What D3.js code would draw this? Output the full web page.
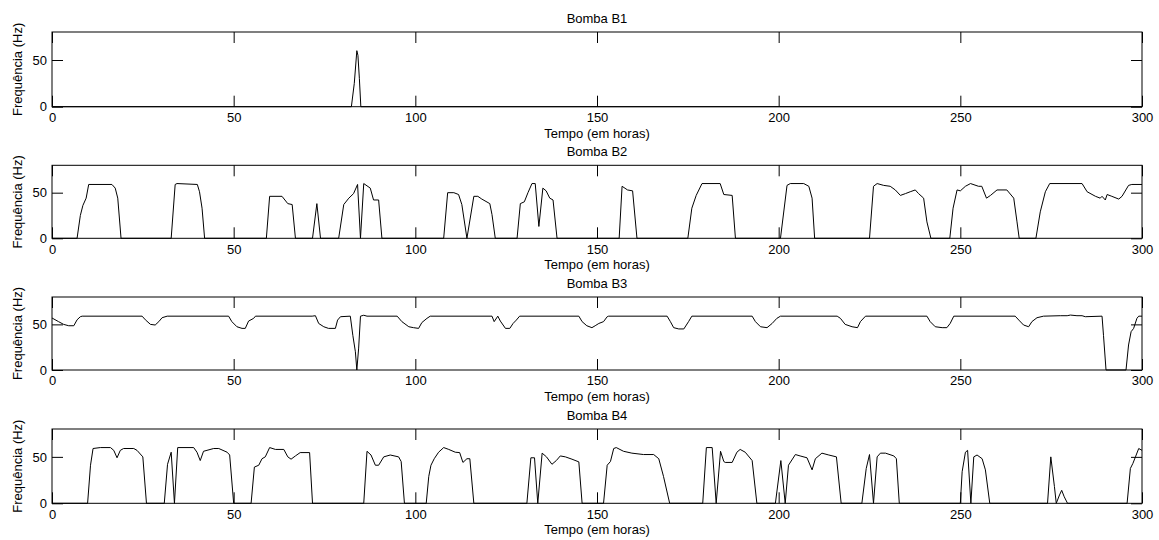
<!DOCTYPE html>
<html>
<head>
<meta charset="utf-8">
<script src="https://cdn.jsdelivr.net/npm/d3@7"></script>
<style>
  body { margin: 0; background: #fff; }
  svg { display: block; font-family: "Liberation Sans", Arial, sans-serif; }
  .tick line { stroke: #000; }
  .tick text { fill: #000; font-size: 13px; }
</style>
</head>
<body>
<div id="chart"></div>
<script>
'use strict';

// pump names (one subplot each)
var pumps = ['Bomba B1', 'Bomba B2', 'Bomba B3', 'Bomba B4'];

var xTicks = [0, 50, 100, 150, 200, 250, 300];
var yTicks = [0, 50];

// time in hours / frequency in Hz
var b1Time = [0, 82.4, 83.2, 83.9, 84.2, 84.6, 85, 300];
var b1Freq = [0, 0, 25, 60, 55, 30, 0, 0];

var b2Time = [0, 6.9, 7.8, 8.5, 9.4, 10.1, 16.5, 17.4, 18.1, 19.0,
  32.8, 33.9, 34.4, 40, 40.6, 41.3, 42.0,
  59, 59.9, 63.3, 64.9, 66.1, 67,
  71.7, 72.9, 73.9,
  78.9, 80.3, 81.7, 83, 84.1, 84.9, 85.8, 87.6, 88.5, 89.9, 90.8,
  107.8, 108.9, 110.6, 111.9, 112.8, 114.2, 116.1, 117.2, 118.3, 120.5, 121.1, 122,
  128, 128.9, 130, 131, 132.1, 133, 134, 135.1, 136, 137, 137.9, 139,
  156.1, 156.9, 158.4, 159.8, 161,
  175, 176.1, 177.3, 178.9, 183.9, 184.9, 187.2, 188.1,
  200.5, 202.3, 203.2, 206.9, 208.3, 209.2, 209.9,
  225, 226.1, 227.1, 228.9, 230.7, 232.1, 233.5, 234.9, 236.2, 237.6, 238.5, 239.9, 240.8, 241.9,
  247.1, 248, 249.1, 250, 251.4, 252.8, 255, 255.9, 257.2, 258.3, 260.1, 262.8, 264.7, 265.6, 266.2,
  270.8, 272, 273.4, 274.6, 283.5, 284.9, 287.2, 288.5, 289, 289.9, 290.4, 291.7, 293.6, 294.5, 296.3, 297.2, 300];
var b2Freq = [0, 0, 25, 36, 44, 59, 59, 55, 44, 0,
  0, 59, 60, 59, 51, 33, 0,
  0, 46, 46, 38, 37, 0,
  0, 38, 0,
  0, 37, 44, 49, 59, 0, 60, 55, 42, 42, 0,
  0, 50, 50, 48, 37, 0, 46, 46, 43, 38, 26, 0,
  0, 38, 40, 50, 60, 60, 13, 55, 52, 44, 42, 0,
  0, 57, 53, 52, 0,
  0, 33, 47, 60, 60, 48, 47, 0,
  0, 58, 60, 60, 57, 44, 0,
  0, 57, 60, 58, 57, 53, 47, 49, 51, 53, 49, 44, 18, 0,
  0, 33, 53, 52, 57, 60, 57, 57, 44, 47, 53, 53, 44, 18, 0,
  0, 29, 51, 60, 60, 51, 46, 44, 46, 42, 48, 46, 43, 46, 58, 59, 59];

var b3Time = [0, 1.8, 3.2, 4.6, 6, 6.9, 7.8, 8.3,
  24.8, 25.7, 27.1, 28.4, 29.4, 30.3, 31.7,
  48.6, 49.5, 50.9, 52.3, 53.2, 54.1, 55.5, 56,
  71.6, 72.5, 73.4, 74.8, 76.1, 78, 78.6, 79.4,
  82.1, 82.8, 83.5, 83.9, 84.4, 84.9, 85.8, 86.7,
  95, 96.3, 98.2, 99.5, 100.9, 101.8, 103.2, 104.1,
  121.1, 121.7, 122.7, 123.4, 124.8, 126, 126.9, 127.8, 128.7,
  145, 145.9, 147.2, 148.6, 149.5, 150.5, 151.8, 152.8, 153.2,
  169.3, 170.2, 171.1, 172.5, 173.9, 175.2, 176.1,
  192.7, 193.6, 195, 196.8, 198.2, 199.5, 200.5,
  216.1, 217, 218.3, 220.2, 221.7, 222.5, 223.9,
  240.8, 241.7, 243.1, 245, 246.3, 247.2, 248.2,
  265.1, 266.1, 267.4, 268.8, 269.7, 271.1, 272.9,
  277.5, 279.4, 280.3, 282.1, 283.5, 284.4, 289, 289.4, 290.1,
  295.6, 296.3, 297, 297.7, 298.6, 299.1, 300];
var b3Freq = [57, 53, 50, 48.5, 48.5, 55, 58.4, 59,
  59, 55, 50, 49.3, 53, 57.3, 59,
  59, 53, 47.4, 45.6, 45.6, 53.6, 56.6, 59,
  59, 59.5, 51, 47.4, 45.6, 45.6, 54.7, 58.4,
  59, 38, 20, 0, 24, 59, 60, 59,
  59, 53, 47.4, 46.4, 45.6, 52, 56.6, 59,
  59, 53, 59, 53.6, 45.6, 45.6, 51, 54.7, 59,
  59, 53, 48.5, 46.4, 48.5, 51, 53, 58.4, 59,
  59, 53, 46.4, 45, 45, 53, 59,
  59, 53, 47.4, 46.4, 51, 56.6, 59,
  59, 56.6, 50, 47.4, 46.4, 53, 59,
  59, 53, 47.4, 46.4, 46.4, 51, 59,
  59, 54.7, 49.3, 47.4, 53, 57.3, 59,
  59.5, 59.5, 60.2, 59.5, 59.5, 58.4, 59, 38, 0,
  0, 27.4, 42, 45.6, 56.6, 59, 59];

var b4Time = [0, 9.8, 10.6, 11.3, 13.3, 16.1, 17, 17.9, 18.8, 19.7, 22.5, 23.4, 25, 26,
  30.9, 31.8, 32.8, 33.7, 34.6, 39, 39.9, 40.8, 41.7, 44.5, 45.9, 48.2, 48.9, 50,
  54.8, 55.7, 56.9, 57.8, 58.7, 59.9, 61.5, 63.8, 64.9, 65.8, 67, 68.3, 70.9, 71.7,
  85.8, 86.7, 87.8, 89, 89.9, 91.3, 93.1, 95.4, 96.1, 97,
  103, 103.7, 104.3, 105.2, 106.4, 107.8, 109.2, 111, 112.2, 113.1, 114.2, 115, 116.1,
  130.7, 131.8, 132.8, 133.7, 134.9, 136.1, 137.6, 138.8, 139.9, 141.3, 143.1, 145, 145.9,
  151.8, 152.8, 153.7, 154.6, 155.3, 157.3, 159.6, 162.8, 165.6, 167, 168.3, 170,
  179.1, 180.1, 181.7, 182.8, 184, 184.9, 185.3, 187.2, 188.5, 189.4, 190.8, 192.7, 194,
  199.1, 200.6, 201.8, 202.7, 204.6, 205.9, 207.8, 209.2, 210.1, 211.9, 213.8, 215.9, 217.2,
  222.9, 224.1, 225, 226.1, 227.1, 228, 229.4, 231.7, 232.4, 233.2,
  250, 250.5, 251.4, 252, 252.9, 253.7, 254.6, 256, 256.9, 258.1,
  274, 274.9, 275.9, 276.4, 277.3, 277.9, 278.6, 279.5,
  295.9, 296.8, 297.5, 298.2, 299.1, 300];
var b4Freq = [0, 0, 41, 59, 60, 60, 57, 49, 57, 59, 59, 57, 50, 0,
  0, 42, 55, 0, 60, 60, 55, 46, 56, 59, 59, 55, 52, 0,
  0, 39, 41, 48, 50, 60, 58, 58, 50, 47.5, 51, 54.6, 54.6, 0,
  0, 56, 52, 41, 41, 50, 52, 50, 45, 0,
  0, 29, 41, 48, 55, 60, 58, 55, 54.6, 44, 48, 48, 0,
  0, 49, 49, 0, 54, 50, 42, 46, 51, 50, 47.5, 44.6, 0,
  0, 41, 45, 59, 60, 56, 54, 52.5, 52.5, 48, 29, 0,
  0, 60, 60, 0, 56, 45, 44, 44, 55, 58, 55, 46, 0,
  0, 46, 0, 41, 52.5, 51, 49, 36, 48, 54, 52, 50, 0,
  0, 37.5, 52.5, 0, 50, 54, 54, 51, 48, 0,
  0, 34, 55, 57, 0, 50, 52, 48, 36, 0,
  0, 50, 18, 0, 9, 14, 7, 0,
  0, 37.5, 43, 50, 59, 57];

var seriesTime = [b1Time, b2Time, b3Time, b4Time];
var seriesFreq = [b1Freq, b2Freq, b3Freq, b4Freq];

var W = 1159, H = 540;
var LEFT = 52, RIGHT = 1142;
// top / bottom of each axes box
var boxes = [[32, 106.7], [165.3, 238.3], [297, 370], [429, 503.3]];
var TICK = 11;

var svg = d3.select('#chart').append('svg')
  .attr('width', W)
  .attr('height', H);

svg.append('rect')
  .attr('width', W)
  .attr('height', H)
  .attr('fill', '#fff');

var x = d3.scaleLinear().domain([0, 300]).range([LEFT, RIGHT]);

pumps.forEach(function (name, i) {
  var top = boxes[i][0],
      bottom = boxes[i][1],
      y = d3.scaleLinear().domain([0, 80]).range([bottom, top]),
      g = svg.append('g'),
      pts = seriesTime[i].map(function (t, k) { return [t, seriesFreq[i][k]]; });

  // inward ticks on all four sides, labels only bottom / left
  g.append('g')
    .attr('transform', 'translate(0,' + bottom + ')')
    .call(d3.axisBottom(x).tickValues(xTicks).tickSizeInner(-TICK)
      .tickSizeOuter(0).tickPadding(6))
    .call(function (a) { a.select('.domain').remove(); });

  g.append('g')
    .attr('transform', 'translate(0,' + top + ')')
    .call(d3.axisTop(x).tickValues(xTicks).tickSizeInner(-TICK)
      .tickSizeOuter(0).tickFormat(''))
    .call(function (a) { a.select('.domain').remove(); });

  g.append('g')
    .attr('transform', 'translate(' + LEFT + ',0)')
    .call(d3.axisLeft(y).tickValues(yTicks).tickSizeInner(-TICK)
      .tickSizeOuter(0).tickPadding(5))
    .call(function (a) { a.select('.domain').remove(); });

  g.append('g')
    .attr('transform', 'translate(' + RIGHT + ',0)')
    .call(d3.axisRight(y).tickValues(yTicks).tickSizeInner(-TICK)
      .tickSizeOuter(0).tickFormat(''))
    .call(function (a) { a.select('.domain').remove(); });

  g.selectAll('.tick text').attr('font-family', null).attr('font-size', null);

  // the data line
  g.append('path')
    .datum(pts)
    .attr('fill', 'none')
    .attr('stroke', '#000')
    .attr('stroke-width', 1)
    .attr('stroke-linejoin', 'round')
    .attr('d', d3.line()
      .x(function (d) { return x(d[0]); })
      .y(function (d) { return y(d[1]); }));

  // axes box
  g.append('rect')
    .attr('x', LEFT)
    .attr('y', top)
    .attr('width', RIGHT - LEFT)
    .attr('height', bottom - top)
    .attr('fill', 'none')
    .attr('stroke', '#000')
    .attr('stroke-width', 1);

  g.append('text')
    .attr('x', (LEFT + RIGHT) / 2)
    .attr('y', top - 9)
    .attr('text-anchor', 'middle')
    .attr('font-size', 13)
    .text(name);

  g.append('text')
    .attr('x', (LEFT + RIGHT) / 2)
    .attr('y', bottom + 31)
    .attr('text-anchor', 'middle')
    .attr('font-size', 13)
    .text('Tempo (em horas)');

  g.append('text')
    .attr('transform', 'translate(21.5,' + ((top + bottom) / 2) + ') rotate(-90)')
    .attr('text-anchor', 'middle')
    .attr('font-size', 13)
    .text('Frequência (Hz)');
});
</script>
</body>
</html>
